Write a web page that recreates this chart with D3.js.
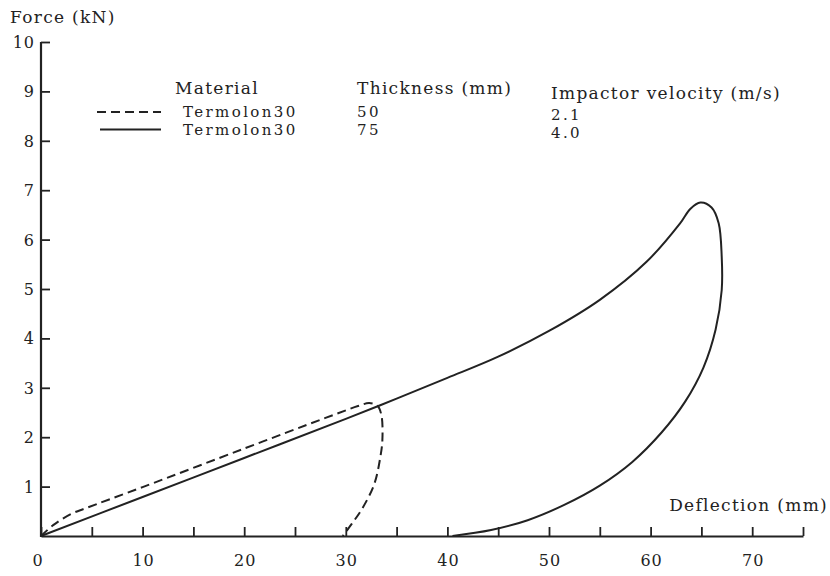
<!DOCTYPE html>
<html>
<head>
<meta charset="utf-8">
<script src="https://cdn.jsdelivr.net/npm/d3@7"></script>
<style>
	body { margin: 0; background: #fff; }
	svg { display: block; }
	.fd-text { font-family: "DejaVu Serif", serif; fill: #222; font-size: 17px; letter-spacing: 1.3px; }
	.fd-row { font-size: 15px; letter-spacing: 2.4px; }
	.fd-tick { font-size: 16px; letter-spacing: 1px; }
</style>
</head>
<body>
<div id="chart"></div>
<script>
'use strict';

// ticks on both axes
var xTicks = [0, 5, 10, 15, 20, 25, 30, 35, 40, 45, 50, 55, 60, 65, 70, 75];
var xTickLabels = [0, 10, 20, 30, 40, 50, 60, 70];
var yTicks = [1, 2, 3, 4, 5, 6, 7, 8, 9, 10];

// 50 mm, 2.1 m/s (dashed) - deflection mm, force kN
var dashedDefl  = [0, 1.2, 3.0, 4.5, 10, 20, 28, 31.2, 32.3, 33.1, 33.5, 33.6, 33.4, 32.8, 31.6, 30.6, 29.7];
var dashedForce = [0, 0.22, 0.45, 0.57, 0.99, 1.77, 2.39, 2.63, 2.69, 2.64, 2.45, 1.94, 1.60, 1.05, 0.55, 0.25, 0];

// 75 mm, 4.0 m/s (solid)
var solidDefl  = [0, 10, 20, 30, 35, 40, 45, 50, 55, 59.6, 62.9, 63.9, 64.9, 66.0, 66.7, 67.0, 67.0, 66.4, 65.2, 63.4, 61.1, 58.2, 55.0, 51.5, 47.9, 44.3, 40.5];
var solidForce = [0, 0.79, 1.58, 2.37, 2.78, 3.20, 3.63, 4.15, 4.78, 5.55, 6.33, 6.62, 6.75, 6.65, 6.33, 5.65, 4.98, 4.18, 3.41, 2.72, 2.10, 1.50, 1.02, 0.63, 0.32, 0.12, 0];

// legend table
var legendHeads = ['Material', 'Thickness (mm)', 'Impactor velocity (m/s)'];
var legendMaterial = ['Termolon30', 'Termolon30'];
var legendThickness = ['50', '75'];
var legendVelocity = ['2.1', '4.0'];
var legendDash = ['9,5', null];

var W = 830, H = 576,
		ink = '#222';

var x = d3.scaleLinear().domain([0, 75]).range([41, 803]);
var y = d3.scaleLinear().domain([0, 10]).range([536, 42]);

var svg = d3.select('#chart').append('svg')
	.attr('width', W)
	.attr('height', H);

/*-- axes --*/
var xAxis = d3.axisTop(x)
	.tickValues(xTicks)
	.tickSize(9)
	.tickSizeOuter(0)
	.tickFormat('');
var gx = svg.append('g')
	.attr('transform', 'translate(0,' + y(0) + ')')
	.call(xAxis);

var yAxis = d3.axisRight(y)
	.tickValues(yTicks)
	.tickSize(9)
	.tickSizeOuter(0)
	.tickFormat('');
var gy = svg.append('g')
	.attr('transform', 'translate(' + x(0) + ',0)')
	.call(yAxis);

[gx, gy].forEach(function (g) {
	g.select('.domain').attr('stroke', ink).attr('stroke-width', 2.2);
	g.selectAll('.tick line').attr('stroke', ink).attr('stroke-width', 1.8);
});
// y axis line starts at the bottom of the x axis
gy.select('.domain').attr('d', 'M0,' + (y(0) + 1) + 'V' + y(10));

// tick labels
svg.append('g').selectAll('text')
	.data(xTickLabels)
	.enter().append('text')
	.attr('class', 'fd-text fd-tick')
	.attr('x', function (d) { return d === 0 ? x(d) - 3 : x(d) + 1; })
	.attr('y', 566)
	.attr('text-anchor', 'middle')
	.text(function (d) { return d; });

svg.append('g').selectAll('text')
	.data(yTicks)
	.enter().append('text')
	.attr('class', 'fd-text fd-tick')
	.attr('x', 35)
	.attr('y', function (d) { return y(d) + 6; })
	.attr('text-anchor', 'end')
	.text(function (d) { return d; });

// axis titles
svg.append('text')
	.attr('class', 'fd-text')
	.attr('x', 10)
	.attr('y', 23)
	.text('Force (kN)');

svg.append('text')
	.attr('class', 'fd-text')
	.attr('x', 828)
	.attr('y', 511)
	.attr('text-anchor', 'end')
	.text('Deflection (mm)');

/*-- curves --*/
var line = d3.line()
	.x(function (d) { return x(d[0]); })
	.y(function (d) { return y(d[1]); })
	.curve(d3.curveCatmullRom.alpha(0.5));

function zip(a, b) {
	return a.map(function (v, i) { return [v, b[i]]; });
}

svg.append('path')
	.datum(zip(solidDefl, solidForce))
	.attr('d', line)
	.attr('fill', 'none')
	.attr('stroke', ink)
	.attr('stroke-width', 2);

svg.append('path')
	.datum(zip(dashedDefl, dashedForce))
	.attr('d', line)
	.attr('fill', 'none')
	.attr('stroke', ink)
	.attr('stroke-width', 2)
	.attr('stroke-dasharray', '9,5');

/*-- legend --*/
var colX = [175, 357, 551];
var headY = [94, 94, 99];
var legend = svg.append('g');

legend.selectAll('text.head')
	.data(legendHeads)
	.enter().append('text')
	.attr('class', 'fd-text head')
	.attr('x', function (d, i) { return colX[i]; })
	.attr('y', function (d, i) { return headY[i]; })
	.text(function (d) { return d; });

legendMaterial.forEach(function (m, i) {
	var by = 117 + i * 17.5;
	legend.append('line')
		.attr('x1', i === 0 ? 97 : 100)
		.attr('x2', 161)
		.attr('y1', by - 5)
		.attr('y2', by - 5)
		.attr('stroke', ink)
		.attr('stroke-width', 2)
		.attr('stroke-dasharray', legendDash[i]);
	legend.append('text')
		.attr('class', 'fd-text fd-row')
		.attr('x', 183)
		.attr('y', by)
		.text(m);
	legend.append('text')
		.attr('class', 'fd-text fd-row')
		.attr('x', 357)
		.attr('y', by)
		.text(legendThickness[i]);
	legend.append('text')
		.attr('class', 'fd-text fd-row')
		.attr('x', 551)
		.attr('y', by + 3)
		.text(legendVelocity[i]);
});
</script>
</body>
</html>
